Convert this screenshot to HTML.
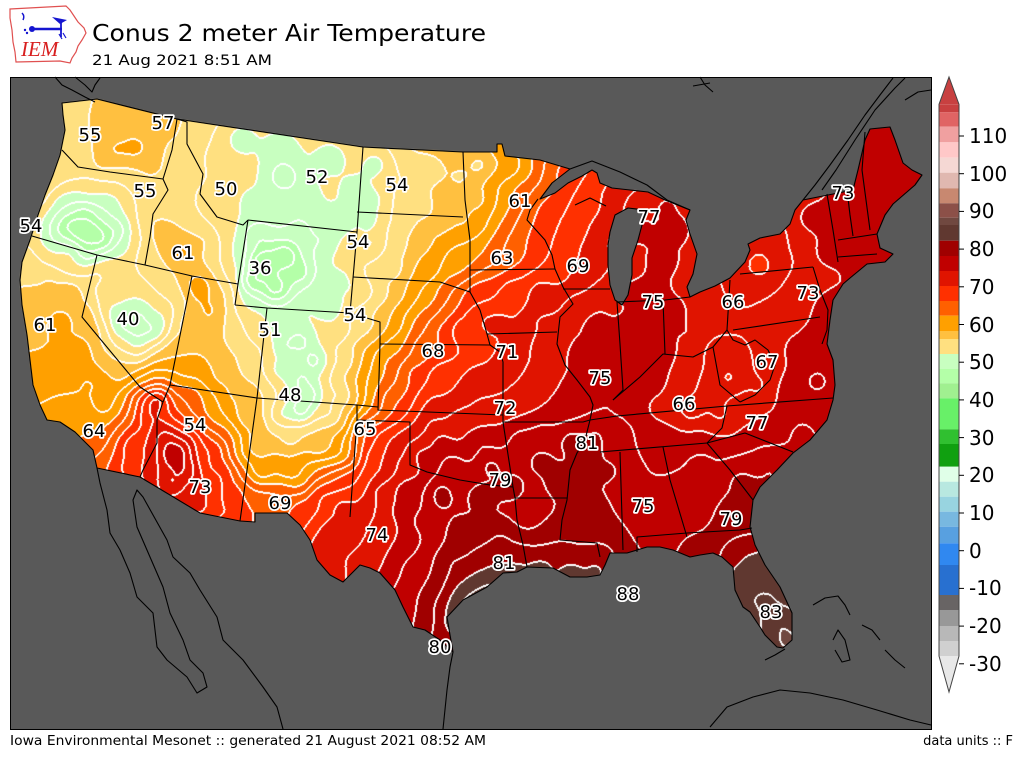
<!DOCTYPE html>
<html><head><meta charset="utf-8">
<style>
html,body{margin:0;padding:0;background:#fff;}
#wrap{position:relative;width:1024px;height:768px;overflow:hidden;background:#fff;}
#fb,#ov{position:absolute;left:0;top:0;}
#cv{position:absolute;left:10px;top:77px;}
.lbl{font-family:"DejaVu Sans","Liberation Sans",sans-serif;font-size:18px;fill:#000;paint-order:stroke;stroke:#fff;stroke-width:3.5px;stroke-linejoin:round;text-anchor:middle;}
.cbl{font-family:"DejaVu Sans","Liberation Sans",sans-serif;font-size:20px;fill:#000;}
</style></head><body>
<div id="wrap">
<svg id="fb" width="1024" height="768" xmlns="http://www.w3.org/2000/svg">
<defs><linearGradient id="g1" x1="0" y1="0" x2="1" y2="0">
<stop offset="0" stop-color="#ffc040"/><stop offset="0.3" stop-color="#ffe080"/><stop offset="0.45" stop-color="#ffa000"/><stop offset="0.55" stop-color="#e01400"/><stop offset="1" stop-color="#c00000"/></linearGradient></defs>
<rect x="10" y="77" width="921" height="652" fill="#595959"/>
<polygon fill="url(#g1)" points="62,103 97,99 177,119 363,147 463,152 497,152 497,144 502,144 505,156 540,160 570,169 552,183 540,199 555,193 568,183 582,176 592,170 597,173 600,183 612,188 630,190 648,192 665,200 690,210 686,220 690,234 697,254 693,274 687,287 690,297 700,292 715,286 730,278 745,262 750,250 748,244 760,238 780,234 790,224 795,210 803,200 853,190 858,170 865,140 870,129 890,127 895,140 903,163 912,170 922,175 915,185 893,204 885,215 877,234 880,248 893,254 885,262 867,264 850,278 843,284 833,300 830,320 827,344 833,360 835,385 833,400 827,420 810,440 793,453 777,470 760,487 753,500 750,527 755,545 765,565 780,587 792,613 792,640 783,648 777,647 765,635 760,627 750,612 743,607 735,590 733,567 722,557 713,553 700,555 690,557 673,550 660,547 647,547 627,553 610,553 605,565 600,575 587,577 570,577 553,568 527,567 517,572 503,573 487,587 463,600 447,617 450,635 453,652 440,640 425,630 413,627 403,607 395,590 380,573 370,568 360,565 343,582 330,575 317,560 310,540 300,525 287,513 255,513 255,522 240,521 200,513 140,477 97,468 93,450 75,432 60,422 47,420 40,405 33,385 30,360 27,335 22,305 20,280 22,262 30,240 38,215 45,195 53,175 60,155 65,130 63,115"/>
</svg>
<canvas id="cv" width="921" height="652"></canvas>
<svg id="ov" width="1024" height="768" xmlns="http://www.w3.org/2000/svg">
<!-- logo -->
<path d="M10,9 L66,6 L70,10 L74,16 L78,22 L84,28 L86,33 L82,40 L78,46 L76,52 L72,58 L70,63 L60,61 L16,62 L15,52 L13,42 L12,30 L10,18 Z" fill="#fff" stroke="#e05050" stroke-width="1.2"/>
<circle cx="32" cy="29" r="3" fill="#1515d0"/>
<line x1="32" y1="29" x2="62" y2="29" stroke="#1515d0" stroke-width="2.5"/>
<line x1="61" y1="21" x2="61" y2="37" stroke="#1515d0" stroke-width="1.8"/>
<polygon points="52,17 67,20 60,24" fill="#1515d0"/>
<path d="M22,13 Q25,16 23,20" stroke="#1515d0" stroke-width="1.5" fill="none"/>
<circle cx="25" cy="30" r="1.2" fill="#1515d0"/><circle cx="27" cy="33" r="1.2" fill="#1515d0"/>
<path d="M63,33 L66,38 M59,34 L62,39" stroke="#1515d0" stroke-width="1.2"/>
<text x="21" y="56" font-family="Liberation Serif,serif" font-style="italic" font-size="21" fill="#d82020">IEM</text>
<!-- titles -->
<text x="92" y="41" font-family="DejaVu Sans,Liberation Sans,sans-serif" font-size="23.5" textLength="394" lengthAdjust="spacingAndGlyphs" fill="#000">Conus 2 meter Air Temperature</text>
<text x="92" y="65" font-family="DejaVu Sans,Liberation Sans,sans-serif" font-size="14.5" textLength="180" lengthAdjust="spacingAndGlyphs" fill="#000">21 Aug 2021 8:51 AM</text>
<text x="10" y="745" font-family="DejaVu Sans,Liberation Sans,sans-serif" font-size="13" textLength="476" lengthAdjust="spacingAndGlyphs" fill="#000">Iowa Environmental Mesonet :: generated 21 August 2021 08:52 AM</text>
<text x="1013" y="745" text-anchor="end" font-family="DejaVu Sans,Liberation Sans,sans-serif" font-size="13" fill="#000">data units :: F</text>

<!-- map lines -->
<g fill="none" stroke="#000" stroke-width="1.1" stroke-linejoin="round">
<polygon points="62,103 97,99 177,119 363,147 463,152 497,152 497,144 502,144 505,156 540,160 570,169 552,183 540,199 555,193 568,183 582,176 592,170 597,173 600,183 612,188 630,190 648,192 665,200 690,210 686,220 690,234 697,254 693,274 687,287 690,297 700,292 715,286 730,278 745,262 750,250 748,244 760,238 780,234 790,224 795,210 803,200 853,190 858,170 865,140 870,129 890,127 895,140 903,163 912,170 922,175 915,185 893,204 885,215 877,234 880,248 893,254 885,262 867,264 850,278 843,284 833,300 830,320 827,344 833,360 835,385 833,400 827,420 810,440 793,453 777,470 760,487 753,500 750,527 755,545 765,565 780,587 792,613 792,640 783,648 777,647 765,635 760,627 750,612 743,607 735,590 733,567 722,557 713,553 700,555 690,557 673,550 660,547 647,547 627,553 610,553 605,565 600,575 587,577 570,577 553,568 527,567 517,572 503,573 487,587 463,600 447,617 450,635 453,652 440,640 425,630 413,627 403,607 395,590 380,573 370,568 360,565 343,582 330,575 317,560 310,540 300,525 287,513 255,513 255,522 240,521 200,513 140,477 97,468 93,450 75,432 60,422 47,420 40,405 33,385 30,360 27,335 22,305 20,280 22,262 30,240 38,215 45,195 53,175 60,155 65,130 63,115"/>
<polygon points="610,232 615,215 628,208 645,210 642,225 638,240 632,258 632,275 628,295 622,305 615,300 610,285 608,265 608,245"/>
<polyline points="62,150 78,167 110,172 163,179"/>
<polyline points="177,119 172,150 163,179"/>
<polyline points="163,179 168,190 153,214 150,237 145,265"/>
<polyline points="32,236 97,255 145,265 192,276 238,284"/>
<polyline points="177,119 187,122 187,144 203,174 200,194 217,217 243,225 248,220"/>
<polyline points="248,220 238,284 235,305"/>
<polyline points="248,220 357,232"/>
<polyline points="363,147 357,232 350,313"/>
<polyline points="357,212 463,217"/>
<polyline points="353,277 440,282 455,287 470,292"/>
<polyline points="235,305 267,308 350,313 380,322 380,344"/>
<polyline points="267,308 257,398"/>
<polyline points="170,385 257,398 357,405 378,407"/>
<polyline points="380,344 378,410 503,415"/>
<polyline points="357,405 357,420 350,517"/>
<polyline points="357,420 410,422 410,465 427,472 460,480 490,485 513,487"/>
<polyline points="257,398 240,521"/>
<polyline points="192,276 170,385 163,402"/>
<polyline points="97,255 82,317 140,387 163,402 157,420 157,443 143,470 140,477"/>
<polyline points="463,152 465,200 470,240 470,270 470,292"/>
<polyline points="470,270 555,269"/>
<polyline points="555,269 552,255 545,240 527,220 530,210 538,199"/>
<polyline points="555,269 563,287 573,304 560,317 557,344 565,365 577,380 590,397 593,405 590,420"/>
<polyline points="470,292 480,310 487,334 490,345"/>
<polyline points="487,334 557,332"/>
<polyline points="380,344 490,345 500,352 503,362 503,415 503,422 583,422 590,420"/>
<polyline points="503,422 513,487 515,498 567,498"/>
<polyline points="515,498 517,520 523,545 527,567"/>
<polyline points="590,420 585,440 577,453 570,470 567,500 562,520 560,540 597,543 600,557"/>
<polyline points="563,289 610,289"/>
<polyline points="617,302 620,344 623,390 613,400"/>
<polyline points="613,400 640,377 663,354 693,357 713,347 727,330"/>
<polyline points="617,302 665,300 690,297"/>
<polyline points="663,300 665,354"/>
<polyline points="730,280 727,330"/>
<polyline points="740,274 813,267"/>
<polyline points="733,330 820,317"/>
<polyline points="813,267 820,290 828,310 827,330 822,344"/>
<polyline points="827,194 833,230 838,262"/>
<polyline points="838,240 877,234"/>
<polyline points="838,257 877,254"/>
<polyline points="847,190 850,215 853,236"/>
<polyline points="865,132 862,170 870,230"/>
<polyline points="727,330 733,340 745,345 755,340 768,350 775,365 770,380 755,395 740,402"/>
<polyline points="713,347 720,385 740,402"/>
<polyline points="590,420 617,416 727,406 833,398"/>
<polyline points="600,452 707,443"/>
<polyline points="707,443 722,428 727,406"/>
<polyline points="707,443 745,433 793,452"/>
<polyline points="707,443 730,470 753,500"/>
<polyline points="620,452 623,550"/>
<polyline points="663,447 670,480 687,537"/>
<polyline points="637,552 637,537 687,533 740,530 752,528"/>
<polyline points="575,205 590,198 606,206"/>
<!-- non-US -->
<polyline points="570,169 592,161 620,172 647,185 667,200 690,210"/>
<polyline points="803,200 815,185 830,165 848,140 865,115 880,95 893,78"/>
<polyline points="822,190 836,170 855,140 875,110 895,88 905,78"/>
<polyline points="905,100 918,92 931,90"/>
<polyline points="55,77 62,85 72,90 85,97 95,102"/>
<polyline points="75,77 85,85 92,92 95,85 100,78"/>
<polyline points="700,77 705,85 713,92"/>
<polyline points="693,86 710,83"/>
<polyline points="97,468 100,483 107,510 110,533 120,550 130,573 137,597 153,613 157,647 167,660 187,677 197,693 207,687 203,673 190,660 183,640 170,613 163,587 150,557 137,527 133,500 137,490 143,497 167,540 173,557 190,573 200,590 217,617 223,640 243,660 263,687 277,707 283,729"/>
<polyline points="453,652 450,667 447,690 443,729"/>
<polyline points="710,727 727,707 753,697 780,690 810,693 843,700 877,710 910,720 931,725"/>
<polyline points="813,605 825,598 838,596 845,605 850,615"/>
<polyline points="833,640 838,630 845,640 850,660 842,662 835,650"/>
<polyline points="862,625 872,630 880,640"/>
<polyline points="885,650 895,660 905,668"/>
<polyline points="765,660 775,655 785,649"/>
</g>
<rect x="10.5" y="77.5" width="921" height="652" fill="none" stroke="#000" stroke-width="1"/>

<!-- station labels -->
<g class="lbl">
<text x="90" y="141" class="lbl">55</text>
<text x="163" y="129" class="lbl">57</text>
<text x="145" y="197" class="lbl">55</text>
<text x="226" y="195" class="lbl">50</text>
<text x="317" y="183" class="lbl">52</text>
<text x="397" y="191" class="lbl">54</text>
<text x="31" y="232" class="lbl">54</text>
<text x="183" y="259" class="lbl">61</text>
<text x="260" y="274" class="lbl">36</text>
<text x="358" y="248" class="lbl">54</text>
<text x="520" y="207" class="lbl">61</text>
<text x="649" y="223" class="lbl">77</text>
<text x="843" y="199" class="lbl">73</text>
<text x="502" y="264" class="lbl">63</text>
<text x="578" y="272" class="lbl">69</text>
<text x="45" y="331" class="lbl">61</text>
<text x="128" y="325" class="lbl">40</text>
<text x="270" y="336" class="lbl">51</text>
<text x="355" y="321" class="lbl">54</text>
<text x="433" y="357" class="lbl">68</text>
<text x="507" y="358" class="lbl">71</text>
<text x="653" y="308" class="lbl">75</text>
<text x="733" y="308" class="lbl">66</text>
<text x="808" y="299" class="lbl">73</text>
<text x="600" y="384" class="lbl">75</text>
<text x="767" y="368" class="lbl">67</text>
<text x="290" y="401" class="lbl">48</text>
<text x="505" y="414" class="lbl">72</text>
<text x="684" y="410" class="lbl">66</text>
<text x="195" y="431" class="lbl">54</text>
<text x="365" y="435" class="lbl">65</text>
<text x="757" y="429" class="lbl">77</text>
<text x="94" y="437" class="lbl">64</text>
<text x="587" y="449" class="lbl">81</text>
<text x="500" y="486" class="lbl">79</text>
<text x="200" y="493" class="lbl">73</text>
<text x="643" y="512" class="lbl">75</text>
<text x="280" y="509" class="lbl">69</text>
<text x="731" y="525" class="lbl">79</text>
<text x="377" y="541" class="lbl">74</text>
<text x="504" y="569" class="lbl">81</text>
<text x="628" y="600" class="lbl">88</text>
<text x="771" y="618" class="lbl">83</text>
<text x="440" y="653" class="lbl">80</text>
</g>

<!-- colorbar -->
<g>
<polygon points="939,104.3 949,77 959,104.3" fill="#c84040"/>
<rect x="939" y="104.3" width="20" height="8.0" fill="#c84040"/>
<rect x="939" y="112.3" width="20" height="14.4" fill="#e06464"/>
<rect x="939" y="126.7" width="20" height="15.6" fill="#f0a0a0"/>
<rect x="939" y="142.3" width="20" height="15.4" fill="#ffc8c8"/>
<rect x="939" y="157.7" width="20" height="15.0" fill="#f5d8d4"/>
<rect x="939" y="172.7" width="20" height="15.6" fill="#e0b8b0"/>
<rect x="939" y="188.3" width="20" height="15.0" fill="#c88870"/>
<rect x="939" y="203.3" width="20" height="14.4" fill="#8c5048"/>
<rect x="939" y="217.7" width="20" height="7.3" fill="#704840"/>
<rect x="939" y="225" width="20" height="15.7" fill="#603830"/>
<rect x="939" y="240.7" width="20" height="15.3" fill="#a00000"/>
<rect x="939" y="256" width="20" height="15" fill="#c00000"/>
<rect x="939" y="271" width="20" height="15" fill="#e01400"/>
<rect x="939" y="286" width="20" height="15" fill="#ff3000"/>
<rect x="939" y="301" width="20" height="14.7" fill="#ff6000"/>
<rect x="939" y="315.7" width="20" height="15.3" fill="#ffa000"/>
<rect x="939" y="331" width="20" height="8" fill="#ffc040"/>
<rect x="939" y="339" width="20" height="15" fill="#ffe080"/>
<rect x="939" y="354" width="20" height="15" fill="#c8ffc0"/>
<rect x="939" y="369" width="20" height="14.3" fill="#b4ffa8"/>
<rect x="939" y="383.3" width="20" height="15" fill="#a0f090"/>
<rect x="939" y="398.3" width="20" height="31" fill="#68f068"/>
<rect x="939" y="429.3" width="20" height="14.7" fill="#30c030"/>
<rect x="939" y="444" width="20" height="22.7" fill="#10a010"/>
<rect x="939" y="466.7" width="20" height="15" fill="#e0ffe8"/>
<rect x="939" y="481.7" width="20" height="15" fill="#b8e8e0"/>
<rect x="939" y="496.7" width="20" height="15" fill="#98d4e0"/>
<rect x="939" y="511.7" width="20" height="15" fill="#78b8e0"/>
<rect x="939" y="526.7" width="20" height="16.6" fill="#58a0e0"/>
<rect x="939" y="543.3" width="20" height="21.7" fill="#3088f0"/>
<rect x="939" y="565" width="20" height="30" fill="#2870d0"/>
<rect x="939" y="595" width="20" height="15" fill="#686464"/>
<rect x="939" y="610" width="20" height="16" fill="#989898"/>
<rect x="939" y="626" width="20" height="15" fill="#b8b8b8"/>
<rect x="939" y="641" width="20" height="15" fill="#d0d0d0"/>
<polygon points="939,656 959,656 949,692" fill="#e8e8e8"/>
<polygon points="939,104.3 949,77 959,104.3 959,656 949,692 939,656" fill="none" stroke="#444" stroke-width="1"/>
<g stroke="#000" stroke-width="1">
<line x1="959" y1="136" x2="964" y2="136"/><line x1="959" y1="173.7" x2="964" y2="173.7"/>
<line x1="959" y1="211.4" x2="964" y2="211.4"/><line x1="959" y1="249.1" x2="964" y2="249.1"/>
<line x1="959" y1="286.8" x2="964" y2="286.8"/><line x1="959" y1="324.5" x2="964" y2="324.5"/>
<line x1="959" y1="362.2" x2="964" y2="362.2"/><line x1="959" y1="399.9" x2="964" y2="399.9"/>
<line x1="959" y1="437.6" x2="964" y2="437.6"/><line x1="959" y1="475.3" x2="964" y2="475.3"/>
<line x1="959" y1="513" x2="964" y2="513"/><line x1="959" y1="550.7" x2="964" y2="550.7"/>
<line x1="959" y1="588.4" x2="964" y2="588.4"/><line x1="959" y1="626.1" x2="964" y2="626.1"/>
<line x1="959" y1="663.8" x2="964" y2="663.8"/>
</g>
<text class="cbl" x="969" y="143">110</text>
<text class="cbl" x="969" y="181">100</text>
<text class="cbl" x="969" y="218">90</text>
<text class="cbl" x="969" y="256">80</text>
<text class="cbl" x="969" y="294">70</text>
<text class="cbl" x="969" y="332">60</text>
<text class="cbl" x="969" y="369">50</text>
<text class="cbl" x="969" y="407">40</text>
<text class="cbl" x="969" y="445">30</text>
<text class="cbl" x="969" y="482">20</text>
<text class="cbl" x="969" y="520">10</text>
<text class="cbl" x="969" y="558">0</text>
<text class="cbl" x="969" y="595">-10</text>
<text class="cbl" x="969" y="633">-20</text>
<text class="cbl" x="969" y="671">-30</text>
</g>
</svg>
</div>
<script>
(function(){
var cv=document.getElementById('cv');if(!cv.getContext)return;var ctx=cv.getContext('2d');
var W=921,H=652,X0=10,Y0=77,S=3;
var P=[
70,110,54, 68,145,55, 100,115,57, 140,115,57, 168,122,57, 85,130,56, 115,150,59.5, 135,148,60, 100,165,57, 150,168,57, 70,165,56,
45,178,57, 40,200,56, 33,228,54, 30,250,55, 85,232,38, 70,226,41, 100,238,41, 85,214,45, 85,252,45, 57,232,46.5, 116,230,46.5, 110,202,50, 62,207,50, 128,250,51, 68,262,52, 45,240,51, 125,188,54, 145,206,54, 148,240,54, 105,268,54, 150,195,55, 90,190,53,
180,140,56, 190,170,55, 205,185,54, 160,235,60, 180,252,61, 198,285,61, 210,310,60.5, 150,215,57, 145,255,57, 205,240,57, 222,290,57, 225,228,53, 240,250,51, 232,272,53,
200,135,54, 215,160,53, 240,140,50, 280,148,50, 330,158,50, 300,200,50, 250,200,51, 283,176,47, 215,200,51, 230,215,52, 355,190,50, 340,220,50,
262,262,38, 285,255,40.5, 275,288,40.5, 252,282,41, 300,272,45, 320,240,49, 340,280,50, 300,228,48.5, 330,303,49, 255,235,46, 245,300,48,
375,165,50, 372,200,50, 400,180,53.5, 430,170,54, 460,178,54.5, 457,208,56.5, 420,205,54,
370,245,50, 395,245,54, 425,245,57, 455,245,60, 370,220,50, 400,220,54, 440,220,55, 465,225,57, 395,270,54, 430,270,58, 460,270,61,
360,292,50, 380,295,54, 400,295,57, 425,292,60, 448,292,64, 470,295,68, 375,325,55, 395,325,58, 418,325,63, 437,330,67, 460,330,71, 488,322,72,
480,165,54, 508,165,57, 525,168,60, 543,170,64, 560,172,67, 480,200,56, 500,200,60, 520,200,63, 535,205,66, 475,225,58,
465,250,60, 485,252,62, 505,252,64, 522,252,65.5, 540,250,67.5,
550,215,68, 555,230,68, 578,230,69.5, 600,230,71, 565,250,69, 590,250,71, 610,250,72, 555,270,68.5, 580,272,70.5, 600,275,72, 600,195,70, 620,200,72, 640,205,73.5, 665,207,75, 585,205,69,
480,290,68, 510,290,70, 540,290,72, 500,320,71, 540,320,73, 475,315,70,
575,305,73.5, 595,325,76, 605,380,76.5, 580,355,76, 600,300,74.5, 610,400,76.5, 565,330,74.5, 600,350,76.5, 570,385,75,
515,360,72, 545,375,73, 525,400,73, 560,400,74.5, 540,345,73,
385,360,63, 410,370,67.5, 440,375,71, 475,380,72, 390,400,66.5, 430,400,71, 480,405,72.5, 395,345,61, 420,345,66,
280,320,50, 300,340,47, 315,360,46, 300,380,47, 278,370,49.5, 340,330,51, 345,360,53, 365,330,54.5, 368,362,58, 378,365,62, 310,395,45, 340,395,51.5, 355,400,56, 372,402,62, 330,310,50, 285,345,48,
300,410,44, 280,415,49, 330,415,51, 262,440,54, 290,440,53.5, 320,445,54, 338,452,57, 350,458,61, 290,470,56, 300,482,60, 280,492,64, 320,495,69.5, 300,507,68, 340,505,72, 265,505,67, 260,470,55, 345,480,68, 340,425,56, 365,470,70,
365,430,68, 385,440,71, 405,440,72.5, 370,455,70.5, 395,460,73, 430,420,73, 460,420,73.5, 490,420,74, 440,440,76, 480,440,77, 450,465,79, 490,465,80, 420,455,76.5,
440,490,80, 480,495,80.5, 510,485,80,
330,530,72, 320,545,71.5, 360,520,72.5, 375,550,73, 350,560,72.5, 395,510,75, 400,560,76, 395,590,76.5, 405,610,77, 420,520,77.5, 425,580,78, 440,500,80, 460,530,80.5, 450,560,80.5, 430,620,79, 445,640,81, 380,575,74, 415,575,77.5, 425,600,78.5, 380,490,74, 405,490,77,
450,625,84, 455,612,85, 462,605,85.5, 468,598,85.5, 476,594,85.5, 485,588,85.5, 495,582,85, 505,577,84.5, 515,574,84, 485,560,81.5, 500,540,81, 515,560,81.5, 465,580,82, 440,605,81,
172,455,81, 165,440,77, 185,470,77, 160,430,73, 190,440,72, 210,450,68, 220,432,63, 215,415,60, 235,410,57, 205,400,62, 145,450,70, 180,450,78, 215,450,71, 225,452,66, 232,452,62, 240,452,58, 252,450,54, 170,483,77, 210,485,72, 235,490,68, 200,505,72, 230,510,69, 248,505,66, 225,470,70, 245,470,62, 245,420,55, 230,395,57, 190,395,65, 156,398,78, 150,470,72, 150,410,74,
137,327,44.5, 120,325,46, 155,330,46, 137,310,48, 137,343,48, 110,310,50, 165,315,50, 100,290,53, 175,298,54, 137,358,53, 150,280,54, 180,320,57.5, 172,345,57.5, 160,365,58, 120,285,52, 115,345,52, 185,375,59, 200,350,58, 215,380,57, 250,370,54, 200,290,61, 225,300,57, 245,300,54, 255,330,52, 235,340,55, 230,365,56,
115,395,58, 128,395,63, 140,397,69, 122,377,55, 143,377,60, 157,377,64,
50,280,57, 70,292,59.5, 60,320,60, 80,350,61, 90,380,61, 100,400,60, 70,255,55, 95,275,56, 105,350,57, 115,365,56.5, 30,300,57, 25,270,56, 40,350,58, 55,390,60, 70,420,61, 105,408,57.5, 100,430,61, 100,440,62, 108,445,64, 118,445,68, 132,445,72, 125,465,69, 85,315,59, 95,330,58,
640,230,76, 660,260,76, 685,258,74, 650,290,76, 622,242,75.5, 675,230,75.5, 690,280,74, 625,290,75.5,
635,330,76.5, 640,370,76.5, 675,310,75.5, 688,330,74.5, 710,320,72, 715,350,71, 660,350,75.5, 700,300,73, 650,390,75.5,
750,300,72, 790,300,72, 808,290,73.5, 828,310,76, 760,265,68, 780,258,71, 810,220,75, 825,250,75, 800,245,73, 770,240,70, 740,280,70, 750,320,72, 790,320,73,
870,160,76, 890,190,76, 850,210,75, 865,245,75, 880,268,76, 840,230,75, 900,170,76, 880,140,76,
800,350,76, 815,380,77, 790,390,76, 728,377,68, 735,355,71, 710,390,71, 820,340,76.5, 765,360,72, 780,370,74, 760,385,71,
620,405,75.5, 660,405,72, 690,410,70, 720,415,71, 650,440,76, 700,440,75, 620,430,77, 600,430,79, 740,405,73, 600,410,76,
760,440,76, 800,430,76.5, 810,455,77, 740,480,79, 735,510,79.5, 720,530,79, 770,470,78.5, 760,495,79, 700,520,77, 690,490,77, 645,480,76, 650,520,77, 700,460,77, 665,455,76,
585,470,80, 590,510,80, 605,540,80, 540,430,77, 540,460,80, 560,480,80, 525,520,77, 580,520,80, 560,555,81.5, 600,560,82, 540,569,84, 570,573,84, 595,572,83.5, 520,440,78, 570,440,80, 610,470,79, 590,445,80,
640,545,78, 700,550,79, 735,548,81, 748,560,83, 742,575,83.5, 760,580,84, 765,600,85, 780,625,86.5, 787,640,87, 745,595,84.5, 770,560,83.5, 720,545,80
];
var GW=Math.floor(W/S)+3,GH=Math.floor(H/S)+3,NP=P.length;
var F=new Float32Array(GW*GH);
for(var j=0;j<GH;j++){var y=Y0+j*S;for(var i=0;i<GW;i++){var x=X0+i*S;var sw=0,sv=0;
for(var k=0;k<NP;k+=3){var dx=x-P[k],dy=y-P[k+1];var d2=dx*dx+dy*dy+60;var w=1/(d2*Math.sqrt(Math.sqrt(d2)));sw+=w;sv+=w*P[k+2];}
F[j*GW+i]=sv/sw;}}
function blur(A,r){var T=new Float32Array(A.length);var n=2*r+1;
for(var j=0;j<GH;j++){for(var i=0;i<GW;i++){var s=0;for(var q=-r;q<=r;q++){var ii=i+q;if(ii<0)ii=0;if(ii>=GW)ii=GW-1;s+=A[j*GW+ii];}T[j*GW+i]=s/n;}}
for(var j2=0;j2<GH;j2++){for(var i2=0;i2<GW;i2++){var s2=0;for(var q2=-r;q2<=r;q2++){var jj=j2+q2;if(jj<0)jj=0;if(jj>=GH)jj=GH-1;s2+=T[jj*GW+i2];}A[j2*GW+i2]=s2/n;}}}
blur(F,2);blur(F,1);
var B=[[32,0x30c030],[40,0x68f068],[44,0xa0f090],[48,0xb4ffa8],[52,0xc8ffc0],[56,0xffe080],[58,0xffc040],[62,0xffa000],[66,0xff6000],[70,0xff3000],[74,0xe01400],[78,0xc00000],[82,0xa00000],[86,0x603830],[88,0x704840],[999,0x8c5048]];
var img=ctx.createImageData(W,H),d=img.data;var L=new Int16Array(W*H);var C=new Int32Array(W*H);
for(var py=0;py<H;py++){var fy=py/S,jj=Math.floor(fy),ty=fy-jj;
for(var px=0;px<W;px++){var fx=px/S,ii=Math.floor(fx),tx=fx-ii;var b=jj*GW+ii;
var v=(F[b]*(1-tx)+F[b+1]*tx)*(1-ty)+(F[b+GW]*(1-tx)+F[b+GW+1]*tx)*ty;
var p=py*W+px;L[p]=Math.floor(v/2);var c=0;for(var q=0;q<B.length;q++){if(v<B[q][0]){c=B[q][1];break;}}C[p]=c;}}
for(var py2=0;py2<H;py2++){for(var px2=0;px2<W;px2++){var p2=py2*W+px2;var l=L[p2];var wht=false;
if(px2<W-1&&L[p2+1]!==l)wht=true;else if(px2>0&&L[p2-1]!==l)wht=true;else if(py2<H-1&&L[p2+W]!==l)wht=true;else if(py2>0&&L[p2-W]!==l)wht=true;
var o=p2*4;if(wht){d[o]=255;d[o+1]=255;d[o+2]=255;}else{var cc=C[p2];d[o]=(cc>>16)&255;d[o+1]=(cc>>8)&255;d[o+2]=cc&255;}d[o+3]=255;}}
var oc=document.createElement('canvas');oc.width=W;oc.height=H;oc.getContext('2d').putImageData(img,0,0);
ctx.fillStyle='#595959';ctx.fillRect(0,0,W,H);
var US=[62,103,97,99,177,119,363,147,463,152,497,152,497,144,502,144,505,156,540,160,570,169,552,183,540,199,555,193,568,183,582,176,592,170,597,173,600,183,612,188,630,190,648,192,665,200,690,210,686,220,690,234,697,254,693,274,687,287,690,297,700,292,715,286,730,278,745,262,750,250,748,244,760,238,780,234,790,224,795,210,803,200,853,190,858,170,865,140,870,129,890,127,895,140,903,163,912,170,922,175,915,185,893,204,885,215,877,234,880,248,893,254,885,262,867,264,850,278,843,284,833,300,830,320,827,344,833,360,835,385,833,400,827,420,810,440,793,453,777,470,760,487,753,500,750,527,755,545,765,565,780,587,792,613,792,640,783,648,777,647,765,635,760,627,750,612,743,607,735,590,733,567,722,557,713,553,700,555,690,557,673,550,660,547,647,547,627,553,610,553,605,565,600,575,587,577,570,577,553,568,527,567,517,572,503,573,487,587,463,600,447,617,450,635,453,652,440,640,425,630,413,627,403,607,395,590,380,573,370,568,360,565,343,582,330,575,317,560,310,540,300,525,287,513,255,513,255,522,240,521,200,513,140,477,97,468,93,450,75,432,60,422,47,420,40,405,33,385,30,360,27,335,22,305,20,280,22,262,30,240,38,215,45,195,53,175,60,155,65,130,63,115];
ctx.save();ctx.beginPath();for(var m=0;m<US.length;m+=2){var X=US[m]-X0,Y=US[m+1]-Y0;if(m===0)ctx.moveTo(X,Y);else ctx.lineTo(X,Y);}ctx.closePath();ctx.clip();
ctx.drawImage(oc,0,0);ctx.restore();
var LM=[610,232,615,215,628,208,645,210,642,225,638,240,632,258,632,275,628,295,622,305,615,300,610,285,608,265,608,245];
ctx.fillStyle='#595959';ctx.beginPath();for(var m2=0;m2<LM.length;m2+=2){var X2=LM[m2]-X0,Y2=LM[m2+1]-Y0;if(m2===0)ctx.moveTo(X2,Y2);else ctx.lineTo(X2,Y2);}ctx.closePath();ctx.fill();
})();
</script>
</body></html>
